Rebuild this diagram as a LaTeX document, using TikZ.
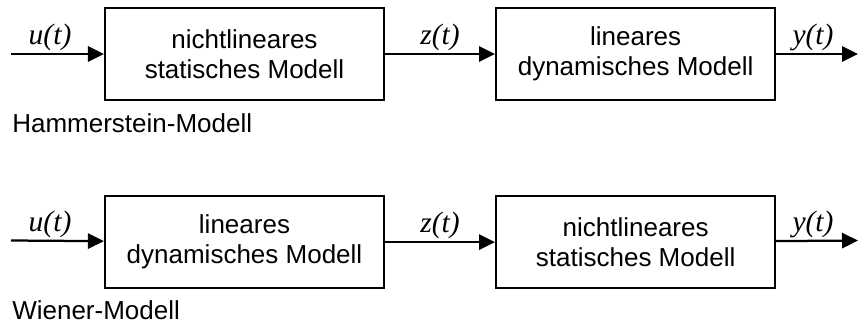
\documentclass[tikz,border=0pt]{standalone}
\usepackage{fontspec}
\setmainfont{Liberation Sans}
\newfontfamily\signalfont{Liberation Serif}
\usetikzlibrary{positioning, arrows.meta}

\begin{document}
\begin{tikzpicture}[
        node distance=2.75cm,
        block/.style={rectangle, draw=black, line width=1.5pt, minimum width=6.975cm, minimum height=2.3cm, align=center, inner sep=0pt, font=\fontsize{18.5}{21.5}\selectfont},
        signal/.style={-{Triangle[length=0.4cm, width=0.38cm]}, line width=1.6pt},
        siglabel/.style={above, inner sep=1.5pt, font=\fontsize{21}{24}\selectfont\signalfont\itshape},
        modell/.style={anchor=base west, inner sep=0pt, font=\fontsize{18.5}{22}\selectfont}
    ]
    \useasboundingbox (0,0) rectangle (21.45,-8.1);

    % HAMMERSTEIN-MODELL
    \node[block] (hnl) at (6.1125,-1.35) {nichtlineares\\statisches Modell};
    \node[block, right=of hnl] (hlin) {lineares\\dynamisches Modell};
    \coordinate (hin) at (0.275,-1.35);
    \coordinate (hout) at (21.45,-1.35);
    \node[modell] (hname) at (0.3,-3.3) {Hammerstein-Modell};

    % WIENER-MODELL
    \node[block, below=2.35cm of hnl] (wlin) {lineares\\dynamisches Modell};
    \node[block, right=of wlin] (wnl) {nichtlineares\\statisches Modell};
    \coordinate (win) at (0.275,-6.0125);
    \coordinate (wout) at (21.45,-6.0125);
    \node[modell] (wname) at (0.3,-7.975) {Wiener-Modell};

    % Signale
    \draw[signal] (hin) -- node[siglabel, pos=0.42] {u(t)} (hnl);
    \draw[signal] (hnl) -- node[siglabel] {z(t)} (hlin);
    \draw[signal] (hlin) -- node[siglabel, pos=0.45] {y(t)} (hout);
    \draw[signal] (win) -- node[siglabel, pos=0.42] {u(t)} (wlin);
    \draw[signal] (wlin) -- node[siglabel] {z(t)} (wnl);
    \draw[signal] (wnl) -- node[siglabel, pos=0.45] {y(t)} (wout);
\end{tikzpicture}
\end{document}
